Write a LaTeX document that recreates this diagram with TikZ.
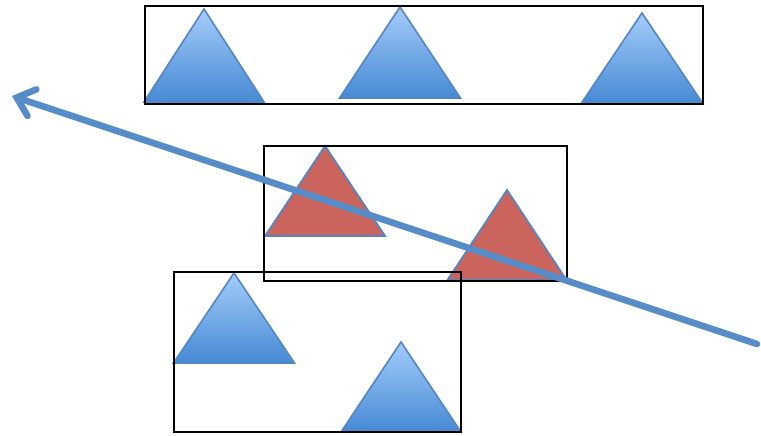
\documentclass[tikz,border=0pt]{standalone}
\usepackage{xcolor}
\usepackage{tikz}
\usetikzlibrary{arrows.meta}
\definecolor{trilight}{RGB}{164, 204, 250}
\definecolor{tridark}{RGB}{70, 138, 212}
\definecolor{triedge}{RGB}{84, 134, 196}
\definecolor{hitred}{RGB}{202, 100, 92}
\definecolor{raycolor}{RGB}{86, 140, 200}
\tikzset{
  bluetri/.style = {
    draw=triedge, line width=1.6pt, line join=miter,
    top color=trilight, bottom color=tridark
  },
  redtri/.style = {
    draw=triedge, line width=1.8pt, line join=miter,
    fill=hitred
  },
  bbox/.style = {draw=black, line width=2.3pt},
  ray/.style = {
    draw=raycolor, line width=6.6pt, line cap=round,
    -{Straight Barb[length=16pt, width=28pt, line cap=round]}
  },
}
% apex x, apex y, half base, height, style
\newcommand{\trishape}[5]{%
  \path[#5] (#1,#2) -- ++(#3,#4) -- ++(-2*#3,0) -- cycle;}

\begin{document}
\begin{tikzpicture}[x=1pt, y=-1pt]
  \useasboundingbox (0,0) rectangle (761,436);

  %% Top group
  \trishape{204}{9}{60}{93}{bluetri}
  \trishape{400}{7}{60.5}{91}{bluetri}
  \trishape{642}{13}{60.5}{90}{bluetri}

  %% Middle group (hit)
  \trishape{325}{146}{60}{90}{redtri}
  \trishape{507}{190}{59.5}{90}{redtri}

  %% Bottom group
  \trishape{234}{273}{60.5}{90}{bluetri}
  \trishape{401}{342}{60}{90}{bluetri}

  %% Boxes
  \draw[bbox] (145,6)   rectangle (703,104);
  \draw[bbox] (264,146) rectangle (567,281);
  \draw[bbox] (174,272) rectangle (461,432);

  %% Ray
  \coordinate (raystart) at (757,344);
  \coordinate (rayend)   at (12,96);
  \draw[ray] (raystart) -- (rayend);
\end{tikzpicture}
\end{document}
